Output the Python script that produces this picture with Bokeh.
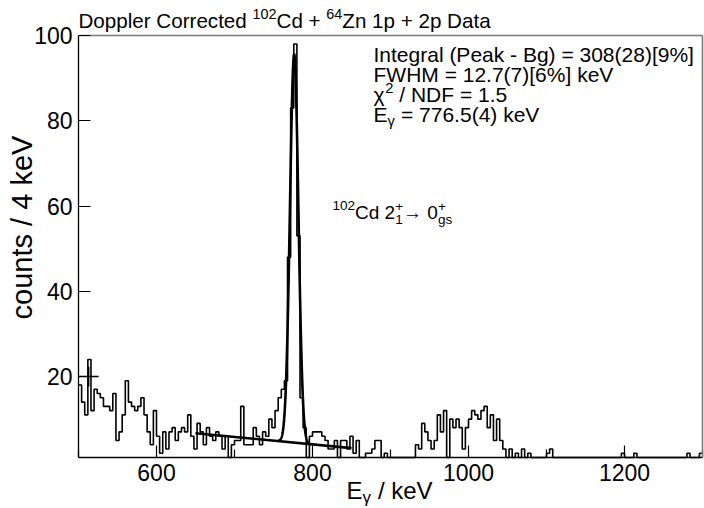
import numpy as np
from bokeh.plotting import figure
from bokeh.models import Label, Range1d, FixedTicker, LinearAxis
from bokeh.embed import file_html
from bokeh.resources import INLINE

# ---------------- data ----------------
bin_start = 500
bin_width = 4
counts = [
    18, 14, 11, 24, 12, 17, 16, 15, 13, 13,   # 500-536
    12, 16, 5, 7, 11, 19, 14, 13, 12, 13,     # 540-576
    15, 11, 7, 4, 12, 6, 2, 7, 3, 7,          # 580-616
    8, 5, 7, 8, 7, 11, 6, 3, 9, 7,            # 620-656
    4, 8, 6, 5, 7, 6, 3, 6, 1, 4,             # 660-696
    5, 5, 13, 4, 4, 4, 8, 6, 4, 7,            # 700-736
    6, 10, 8, 12, 15, 17, 19, 48, 83, 98,     # 740-776
    53, 15, 8, 1, 6, 7, 7, 7, 6, 5,           # 780-816
    3, 3, 5, 0, 5, 5, 3, 6, 2, 5,             # 820-856
    0, 0, 2, 2, 3, 5, 5, 0, 2, 0,             # 860-896
    0, 0, 0, 0, 0, 0, 0, 0, 4, 3,             # 900-936
    9, 7, 5, 3, 5, 11, 7, 12, 0, 10,          # 940-976
    8, 10, 8, 3, 8, 10, 12, 11, 10, 12,       # 980-1016
    13, 8, 11, 5, 10, 5, 3, 0, 3, 0,          # 1020-1056
    2, 0, 3, 0, 2, 0, 0, 0, 0, 0,             # 1060-1096
    2, 3, 0, 0, 0, 0, 0, 0, 0, 0,             # 1100-1136
    0, 0, 0, 0, 0, 0, 0, 0, 0, 0,             # 1140-1176
    0, 0, 0, 0, 2, 0, 0, 0, 2, 0,             # 1180-1216
    0, 0, 0, 0, 0, 0, 0, 0, 0, 0,             # 1220-1256
    0, 0, 0, 0, 0, 2, 0, 0, 0, 2,             # 1260-1296
]

x_major_ticks = [600, 800, 1000, 1200]
x_minor_ticks = [500, 700, 900, 1100, 1300]
y_major_ticks = [20, 40, 60, 80, 100]

# fit results (as printed on the chart)
peak_energy = 776.5
peak_fwhm = 12.7
peak_area = 308
bg_x = [650, 850]
bg_y = [6.7, 3.2]
fit_range = [756, 796]

marker_x = [513]
marker_y = [20]

# ---------------- geometry ----------------
X0, X1, Y0, Y1 = 500, 1300, 1, 100          # axis ranges
W, H = 704, 508                              # canvas
FL, FR, FT, FB = 78, 702, 35, 457            # histogram frame in canvas px

def xd(px):
    return X0 + (px - FL) * (X1 - X0) / (FR - FL)

def yd(py):
    return Y0 + (FB - py) * (Y1 - Y0) / (FB - FT)

p = figure(width=W, height=H, x_range=Range1d(xd(0), xd(W)), y_range=Range1d(yd(H), yd(0)),
           x_axis_location=None, y_axis_location=None, min_border=0,
           output_backend="svg", toolbar_location=None)
p.title.visible = False
p.grid.visible = False
p.outline_line_color = None
p.background_fill_color = "white"
p.border_fill_color = "white"

FONT = "Liberation Sans"

def style_axis(ax, ticks, minor, tick_len, minor_len):
    ax.ticker = FixedTicker(ticks=ticks, minor_ticks=minor)
    ax.axis_line_color = "black"
    ax.axis_line_width = 1.3
    ax.major_tick_line_color = "black"
    ax.minor_tick_line_color = "black"
    ax.major_tick_line_width = 1.2
    ax.minor_tick_line_width = 1.2
    ax.major_tick_in = tick_len
    ax.major_tick_out = 0
    ax.minor_tick_in = minor_len
    ax.minor_tick_out = 0
    ax.major_label_text_font = FONT
    ax.major_label_text_font_size = "23px"
    ax.major_label_text_color = "black"
    ax.major_label_standoff = 6

xax = LinearAxis(fixed_location=Y0, bounds=(X0, X1))
style_axis(xax, x_major_ticks, x_minor_ticks, 12, 8)
p.add_layout(xax, "below")

yax = LinearAxis(fixed_location=X0, bounds=(Y0, Y1))
style_axis(yax, y_major_ticks, [], 12, 0)
p.add_layout(yax, "left")

for loc, side, bnds in ((Y1, "above", (X0, X1)), (X1, "right", (Y0, Y1))):
    fr = LinearAxis(fixed_location=loc, bounds=bnds, ticker=FixedTicker(ticks=[], minor_ticks=[]))
    fr.axis_line_color = "#7a7a7a"
    fr.axis_line_width = 1.6
    fr.major_tick_line_color = None
    fr.minor_tick_line_color = None
    fr.major_label_text_font_size = "0px"
    p.add_layout(fr, side)

# histogram (drawn clipped to the axis range, as the original does)
edges = [bin_start + i * bin_width for i in range(len(counts) + 1)]
shown = list(np.clip(counts + [counts[-1]], Y0, Y1))
p.step(edges, shown, mode="after", line_color="black", line_width=1.6)

# background line
p.line(bg_x, bg_y, line_color="black", line_width=2.6)

# fit curve: gaussian (from printed parameters) on linear background
sigma = peak_fwhm / 2.3548
xf = np.linspace(fit_range[0], fit_range[1], 300)
bgf = np.interp(xf, bg_x, bg_y)
yf = bgf + peak_area * bin_width / (sigma * np.sqrt(2 * np.pi)) * np.exp(-0.5 * ((xf - peak_energy) / sigma) ** 2)
p.line(xf, yf, line_color="black", line_width=2.6)

p.scatter(marker_x, marker_y, marker="cross", size=20, line_color="black", line_width=1.5)

# ---------------- text ----------------
WID = {' ': .278, '%': .889, '(': .333, ')': .333, '+': .584, '-': .333, '.': .278, '/': .278,
       '=': .584, '[': .278, ']': .278, 'A': .667, 'B': .667, 'C': .722, 'D': .722, 'E': .667,
       'F': .611, 'H': .722, 'I': .278, 'M': .833, 'N': .722, 'P': .667, 'V': .667, 'W': .944,
       'Z': .611, 'a': .556, 'c': .5, 'd': .556, 'e': .556, 'g': .556, 'k': .5, 'l': .222,
       'n': .556, 'o': .556, 'p': .556, 'r': .333, 's': .5, 't': .278, 'u': .556,
       'χ': .56, 'γ': .52, '→': 1.0}
SHIFT = 0.37   # empirical baseline correction (fraction of font size)

def tw(s, size):
    return sum(WID.get(c, .556) for c in s) * size

def lab(text, x_px, base_px, size, align="left", angle=0.0):
    if angle:
        x_px -= SHIFT * size
    else:
        base_px -= SHIFT * size
    p.add_layout(Label(x=xd(x_px), y=yd(base_px), text=text, text_font=FONT,
                       text_font_size=f"{size}px", text_color="black",
                       text_baseline="alphabetic", text_align=align, angle=angle))

def seq(parts, x_px, base_px):
    x = x_px
    for part in parts:
        items = part if isinstance(part, list) else [part]
        w = 0
        for text, size, dy in items:
            lead = len(text) - len(text.lstrip(" "))
            lab(text.strip(" "), x + tw(" " * lead, size), base_px + dy, size)
            w = max(w, tw(text, size))
        x += w
    return x

# title
TS, TSS = 20.6, 14.4
seq([("Doppler Corrected ", TS, 0), ("102", TSS, -9), ("Cd + ", TS, 0), ("64", TSS, -9),
     ("Zn 1p + 2p Data", TS, 0)], 78, 28)

# stats text
SS, SSS = 21, 14.7
seq([("Integral (Peak - Bg) = 308(28)[9%]", SS, 0)], 373, 62)
seq([("FWHM = 12.7(7)[6%] keV", SS, 0)], 373, 82)
seq([("χ", SS, 0), ("2", SSS, -9), (" / NDF = 1.5", SS, 0)], 373, 102)
seq([("E", SS, 0), ("γ", SSS, 4), (" = 776.5(4) keV", SS, 0)], 373, 122)

# peak label
PS, PSS = 19, 13.5
seq([("102", PSS, -9), ("Cd 2", PS, 0), [("+", PSS, -8), ("1", PSS, 5)], ("→", PS, 0),
     (" 0", PS, 0), [("+", PSS, -8), ("gs", PSS, 5)]], 332, 219)

# axis titles
AS, ASS = 24, 17
xt_w = tw("E", AS) + tw("γ", ASS) + tw(" / keV", AS)
seq([("E", AS, 0), ("γ", ASS, 4), (" / keV", AS, 0)], 389 - xt_w / 2, 499)
lab("counts / 4 keV", 32, 227, 29, align="center", angle=np.pi / 2)

open("out.html", "w").write(file_html(p, INLINE))
